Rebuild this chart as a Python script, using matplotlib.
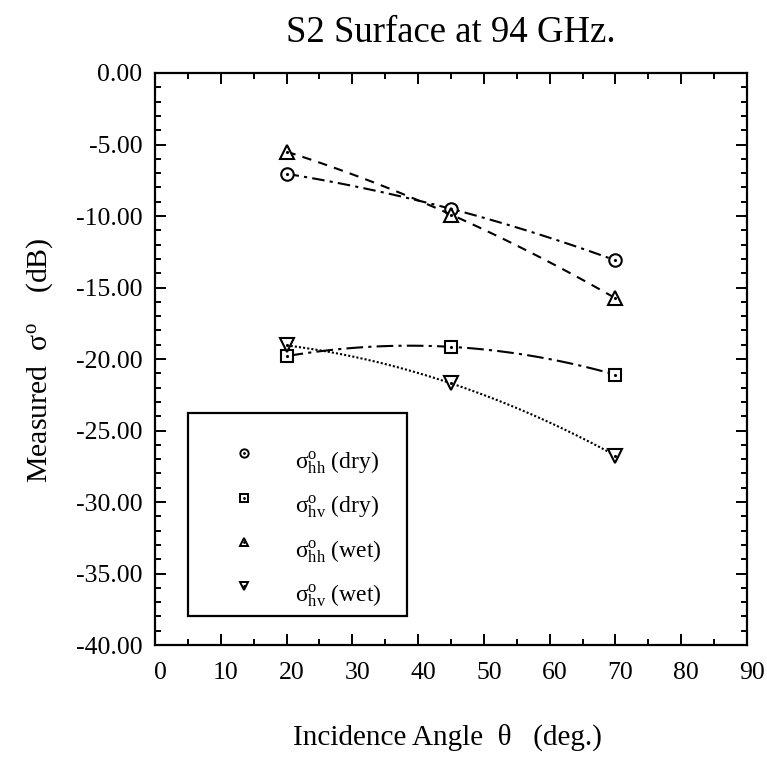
import numpy as np
import matplotlib
matplotlib.use('Agg')
import matplotlib.pyplot as plt
import matplotlib.transforms as mtransforms
from matplotlib.patches import Rectangle
from matplotlib.ticker import MultipleLocator, FuncFormatter

plt.rcParams['font.family'] = ['Liberation Serif', 'DejaVu Serif']
plt.rcParams['mathtext.fontset'] = 'custom'
plt.rcParams['mathtext.rm'] = 'Liberation Serif'
plt.rcParams['mathtext.it'] = 'Liberation Serif:italic'

# incidence angles (deg) and measured sigma0 (dB)
angles = [20, 45, 70]
hh_dry = [-7.05, -9.5, -13.1]
hv_dry = [-19.8, -19.15, -21.1]
hh_wet = [-5.5, -9.9, -15.75]
hv_wet = [-19.05, -21.7, -26.75]

labels = [r'$\mathrm{\sigma}^{\mathrm{o}}_{\mathrm{hh}}$ (dry)',
          r'$\mathrm{\sigma}^{\mathrm{o}}_{\mathrm{hv}}$ (dry)',
          r'$\mathrm{\sigma}^{\mathrm{o}}_{\mathrm{hh}}$ (wet)',
          r'$\mathrm{\sigma}^{\mathrm{o}}_{\mathrm{hv}}$ (wet)']
series = [hh_dry, hv_dry, hh_wet, hv_wet]
markers = ['o', 's', '^', 'v']
dashes = [(6, 2.5, 1.5, 2.5), (8, 2.5, 1.5, 2.5), (4.5, 3.5), (1, 1.0)]

fig = plt.figure(figsize=(7.67, 7.62), dpi=100)
ax = fig.add_axes([0.2021, 0.1535, 0.7718, 0.7507])

for vals, mk, ds in zip(series, markers, dashes):
    # smooth quadratic curve through the three measured points
    coef = np.polyfit(angles, vals, 2)
    xs = np.linspace(angles[0], angles[-1], 100)
    ax.plot(xs, np.polyval(coef, xs), color='black', lw=1.5, dashes=ds)
    ax.plot(angles, vals, linestyle='none', marker=mk, markersize=9 if mk in 'os' else 10,
            markerfacecolor='white', markeredgecolor='black', markeredgewidth=1.5)
    ax.plot(angles, vals, linestyle='none', marker='.', markersize=2.5, color='black')

# legend box drawn by hand (markers only, no lines)
ax.add_patch(Rectangle((0.0556, 0.0515), 0.3694, 0.3535, transform=ax.transAxes,
                       facecolor='white', edgecolor='black', lw=1.6, zorder=5))
leg_y = [0.335, 0.2575, 0.18, 0.1025]
for mk, lab, yy in zip(markers, labels, leg_y):
    ax.plot([0.151], [yy], transform=ax.transAxes, linestyle='none', marker=mk, markersize=6,
            markerfacecolor='white', markeredgecolor='black', markeredgewidth=1.4, zorder=6)
    ax.plot([0.151], [yy], transform=ax.transAxes, marker='.', markersize=2, color='black', zorder=7)
    ax.text(0.236, yy - 0.01, lab, transform=ax.transAxes, fontsize=17, ha='left',
            va='center_baseline', zorder=7)

ax.set_xlim(0, 90)
ax.set_ylim(-40, 0)
ax.xaxis.set_major_locator(MultipleLocator(10))
ax.xaxis.set_minor_locator(MultipleLocator(5))
ax.yaxis.set_major_locator(MultipleLocator(5))
ax.yaxis.set_minor_locator(MultipleLocator(1))
ax.yaxis.set_major_formatter(FuncFormatter(lambda v, p: '%.2f' % v))
ax.tick_params(which='both', direction='in', top=True, right=True, width=1.4)
ax.tick_params(which='major', length=8)
ax.tick_params(which='minor', length=4)
ax.tick_params(axis='x', labelsize=18.5, pad=12)
ax.tick_params(axis='y', labelsize=18.5, pad=9)
for sp in ax.spines.values():
    sp.set_linewidth(1.6)
shift = mtransforms.ScaledTranslation(5 / 100, 0, fig.dpi_scale_trans)
for lbl in ax.get_xticklabels():
    lbl.set_transform(lbl.get_transform() + shift)

fig.text(0.588, 0.945, 'S2 Surface at 94 GHz.', fontsize=26.5, ha='center', va='baseline')
fig.text(0.584, 0.0223, u'Incidence Angle  \u03b8   (deg.)', fontsize=21, ha='center', va='baseline')
fig.text(0.052, 0.528, r'Measured  $\mathrm{\sigma}^{\mathrm{o}}$    (dB)', fontsize=21.5,
         rotation=90, ha='center', va='center')

fig.savefig('out.png', dpi=100)
